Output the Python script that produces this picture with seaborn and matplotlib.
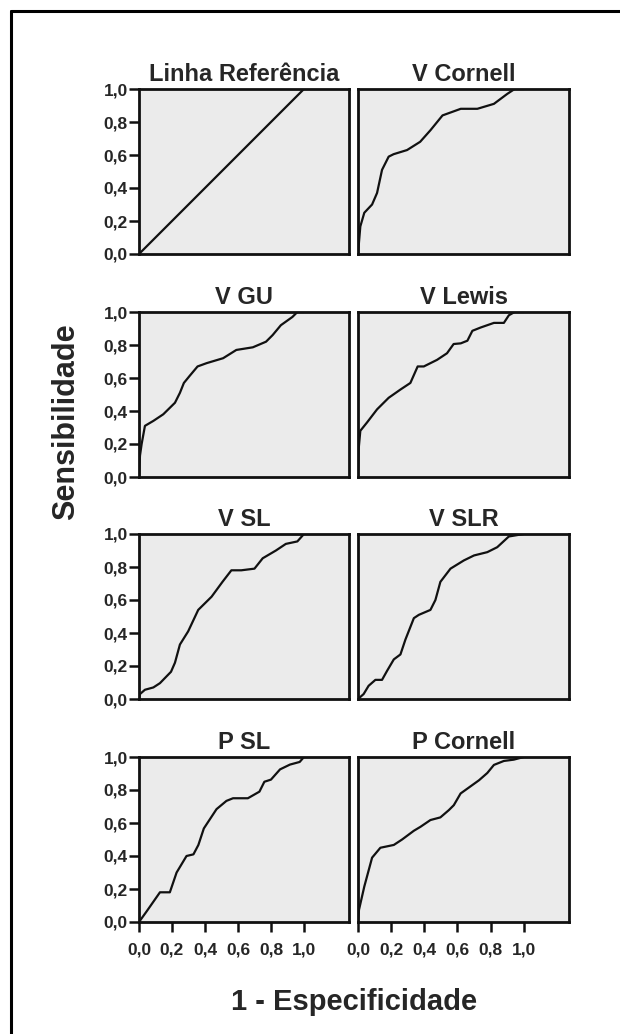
import seaborn as sns
import matplotlib.pyplot as plt
import matplotlib.lines as mlines
import pandas as pd

# pontos das curvas ROC (1 - especificidade, sensibilidade)
titulos = ['Linha Referência', 'V Cornell', 'V GU', 'V Lewis',
           'V SL', 'V SLR', 'P SL', 'P Cornell']

ref_x = [0.0, 1.0]
ref_y = [0.0, 1.0]

vcornell_x = [0.0, 0.014, 0.038, 0.085, 0.115, 0.145, 0.185, 0.215, 0.296, 0.375,
              0.437, 0.51, 0.62, 0.72, 0.82, 0.90, 0.945, 1.0]
vcornell_y = [0.0, 0.167, 0.25, 0.30, 0.37, 0.51, 0.59, 0.605, 0.63, 0.68,
              0.75, 0.84, 0.88, 0.88, 0.91, 0.97, 1.0, 1.0]

vgu_x = [0.0, 0.006, 0.016, 0.036, 0.087, 0.147, 0.218, 0.248, 0.272, 0.308, 0.355,
         0.41, 0.51, 0.59, 0.69, 0.77, 0.81, 0.86, 0.93, 0.96, 1.0]
vgu_y = [0.0, 0.13, 0.20, 0.31, 0.34, 0.38, 0.45, 0.51, 0.57, 0.614, 0.67,
         0.69, 0.72, 0.77, 0.786, 0.82, 0.86, 0.92, 0.97, 1.0, 1.0]

vlewis_x = [0.0, 0.004, 0.014, 0.054, 0.115, 0.185, 0.256, 0.316, 0.36, 0.397, 0.477,
            0.537, 0.577, 0.62, 0.66, 0.69, 0.74, 0.82, 0.88, 0.91, 0.945, 1.0]
vlewis_y = [0.0, 0.17, 0.28, 0.33, 0.41, 0.48, 0.53, 0.57, 0.67, 0.67, 0.71,
            0.75, 0.806, 0.81, 0.826, 0.886, 0.906, 0.934, 0.934, 0.98, 1.0, 1.0]

vsl_x = [0.0, 0.006, 0.036, 0.087, 0.127, 0.194, 0.218, 0.248, 0.298, 0.359, 0.44,
         0.506, 0.56, 0.62, 0.70, 0.75, 0.83, 0.89, 0.96, 1.0]
vsl_y = [0.0, 0.03, 0.056, 0.07, 0.096, 0.165, 0.22, 0.33, 0.41, 0.54, 0.62,
         0.71, 0.78, 0.78, 0.79, 0.853, 0.90, 0.94, 0.955, 1.0]

vslr_x = [0.0, 0.034, 0.064, 0.105, 0.145, 0.175, 0.216, 0.256, 0.286, 0.337, 0.367,
          0.437, 0.467, 0.497, 0.558, 0.639, 0.70, 0.78, 0.84, 0.91, 1.0]
vslr_y = [0.0, 0.03, 0.08, 0.116, 0.116, 0.17, 0.24, 0.27, 0.36, 0.49, 0.51,
          0.54, 0.60, 0.71, 0.79, 0.84, 0.87, 0.89, 0.92, 0.985, 1.0]

psl_x = [0.0, 0.046, 0.127, 0.187, 0.228, 0.288, 0.33, 0.36, 0.393, 0.47, 0.53,
         0.57, 0.66, 0.73, 0.76, 0.80, 0.855, 0.915, 0.974, 1.0]
psl_y = [0.0, 0.064, 0.18, 0.18, 0.30, 0.40, 0.41, 0.467, 0.567, 0.684, 0.734,
         0.75, 0.75, 0.79, 0.85, 0.863, 0.925, 0.954, 0.97, 1.0]

pcornell_x = [0.0, 0.006, 0.038, 0.085, 0.135, 0.216, 0.266, 0.337, 0.377, 0.437, 0.497,
              0.548, 0.578, 0.619, 0.669, 0.73, 0.78, 0.82, 0.88, 0.94, 1.0]
pcornell_y = [0.0, 0.074, 0.215, 0.39, 0.45, 0.467, 0.50, 0.553, 0.577, 0.618, 0.634,
              0.678, 0.708, 0.779, 0.815, 0.859, 0.903, 0.952, 0.976, 0.984, 1.0]

curvas_x = [ref_x, vcornell_x, vgu_x, vlewis_x, vsl_x, vslr_x, psl_x, pcornell_x]
curvas_y = [ref_y, vcornell_y, vgu_y, vlewis_y, vsl_y, vslr_y, psl_y, pcornell_y]

ticks = [0.0, 0.2, 0.4, 0.6, 0.8, 1.0]
tick_labels = ['0,0', '0,2', '0,4', '0,6', '0,8', '1,0']

sns.set_style('white')
plt.rcParams['font.family'] = ['Liberation Sans', 'DejaVu Sans']

W, H = 620, 1034
fig = plt.figure(figsize=(W / 100, H / 100), dpi=100)

col_left = [139, 358]
col_w = [210, 211]
row_top = [89, 312, 534, 757]
ph = 165

for i in range(8):
    r, c = divmod(i, 2)
    ax = fig.add_axes([col_left[c] / W, 1 - (row_top[r] + ph) / H, col_w[c] / W, ph / H])
    ax.set_facecolor('#ebebeb')
    df = pd.DataFrame({'x': curvas_x[i], 'y': curvas_y[i]})
    sns.lineplot(data=df, x='x', y='y', sort=False, estimator=None,
                 color='#111111', linewidth=1.6, ax=ax)
    ax.set_xlim(0, 1.273)
    ax.set_ylim(0, 1.0)
    ax.set_title(titulos[i], fontsize=17, fontweight='bold', pad=6)
    ax.set_xlabel('')
    ax.set_ylabel('')
    for s in ax.spines.values():
        s.set_visible(True)
        s.set_linewidth(2.0)
        s.set_color('#111111')
    ax.tick_params(direction='out', length=7.5, width=1.8, color='#111111',
                   bottom=(r == 3), left=(c == 0))
    if c == 0:
        ax.set_yticks(ticks)
        ax.set_yticklabels(tick_labels, fontsize=12.5, fontweight='bold')
        ax.tick_params(axis='y', pad=0.5)
    else:
        ax.set_yticks([])
    if r == 3:
        ax.set_xticks(ticks)
        ax.set_xticklabels(tick_labels, fontsize=12.5, fontweight='bold')
        ax.tick_params(axis='x', pad=7)
    else:
        ax.set_xticks([])

fig.text(354 / W, 1 - 1002 / H, '1 - Especificidade', ha='center', va='center',
         fontsize=21, fontweight='bold')
fig.text(66 / W, 1 - 422 / H, 'Sensibilidade', ha='center', va='center',
         rotation=90, fontsize=22, fontweight='bold')

# moldura (so esquerda e topo aparecem no recorte)
fig.add_artist(mlines.Line2D([11 / W, 11 / W], [0, 1 - 11 / H], color='black',
                             linewidth=2.2, transform=fig.transFigure))
fig.add_artist(mlines.Line2D([11 / W, 1], [1 - 11 / H, 1 - 11 / H], color='black',
                             linewidth=2.2, transform=fig.transFigure))

fig.savefig('out.png', dpi=100)
